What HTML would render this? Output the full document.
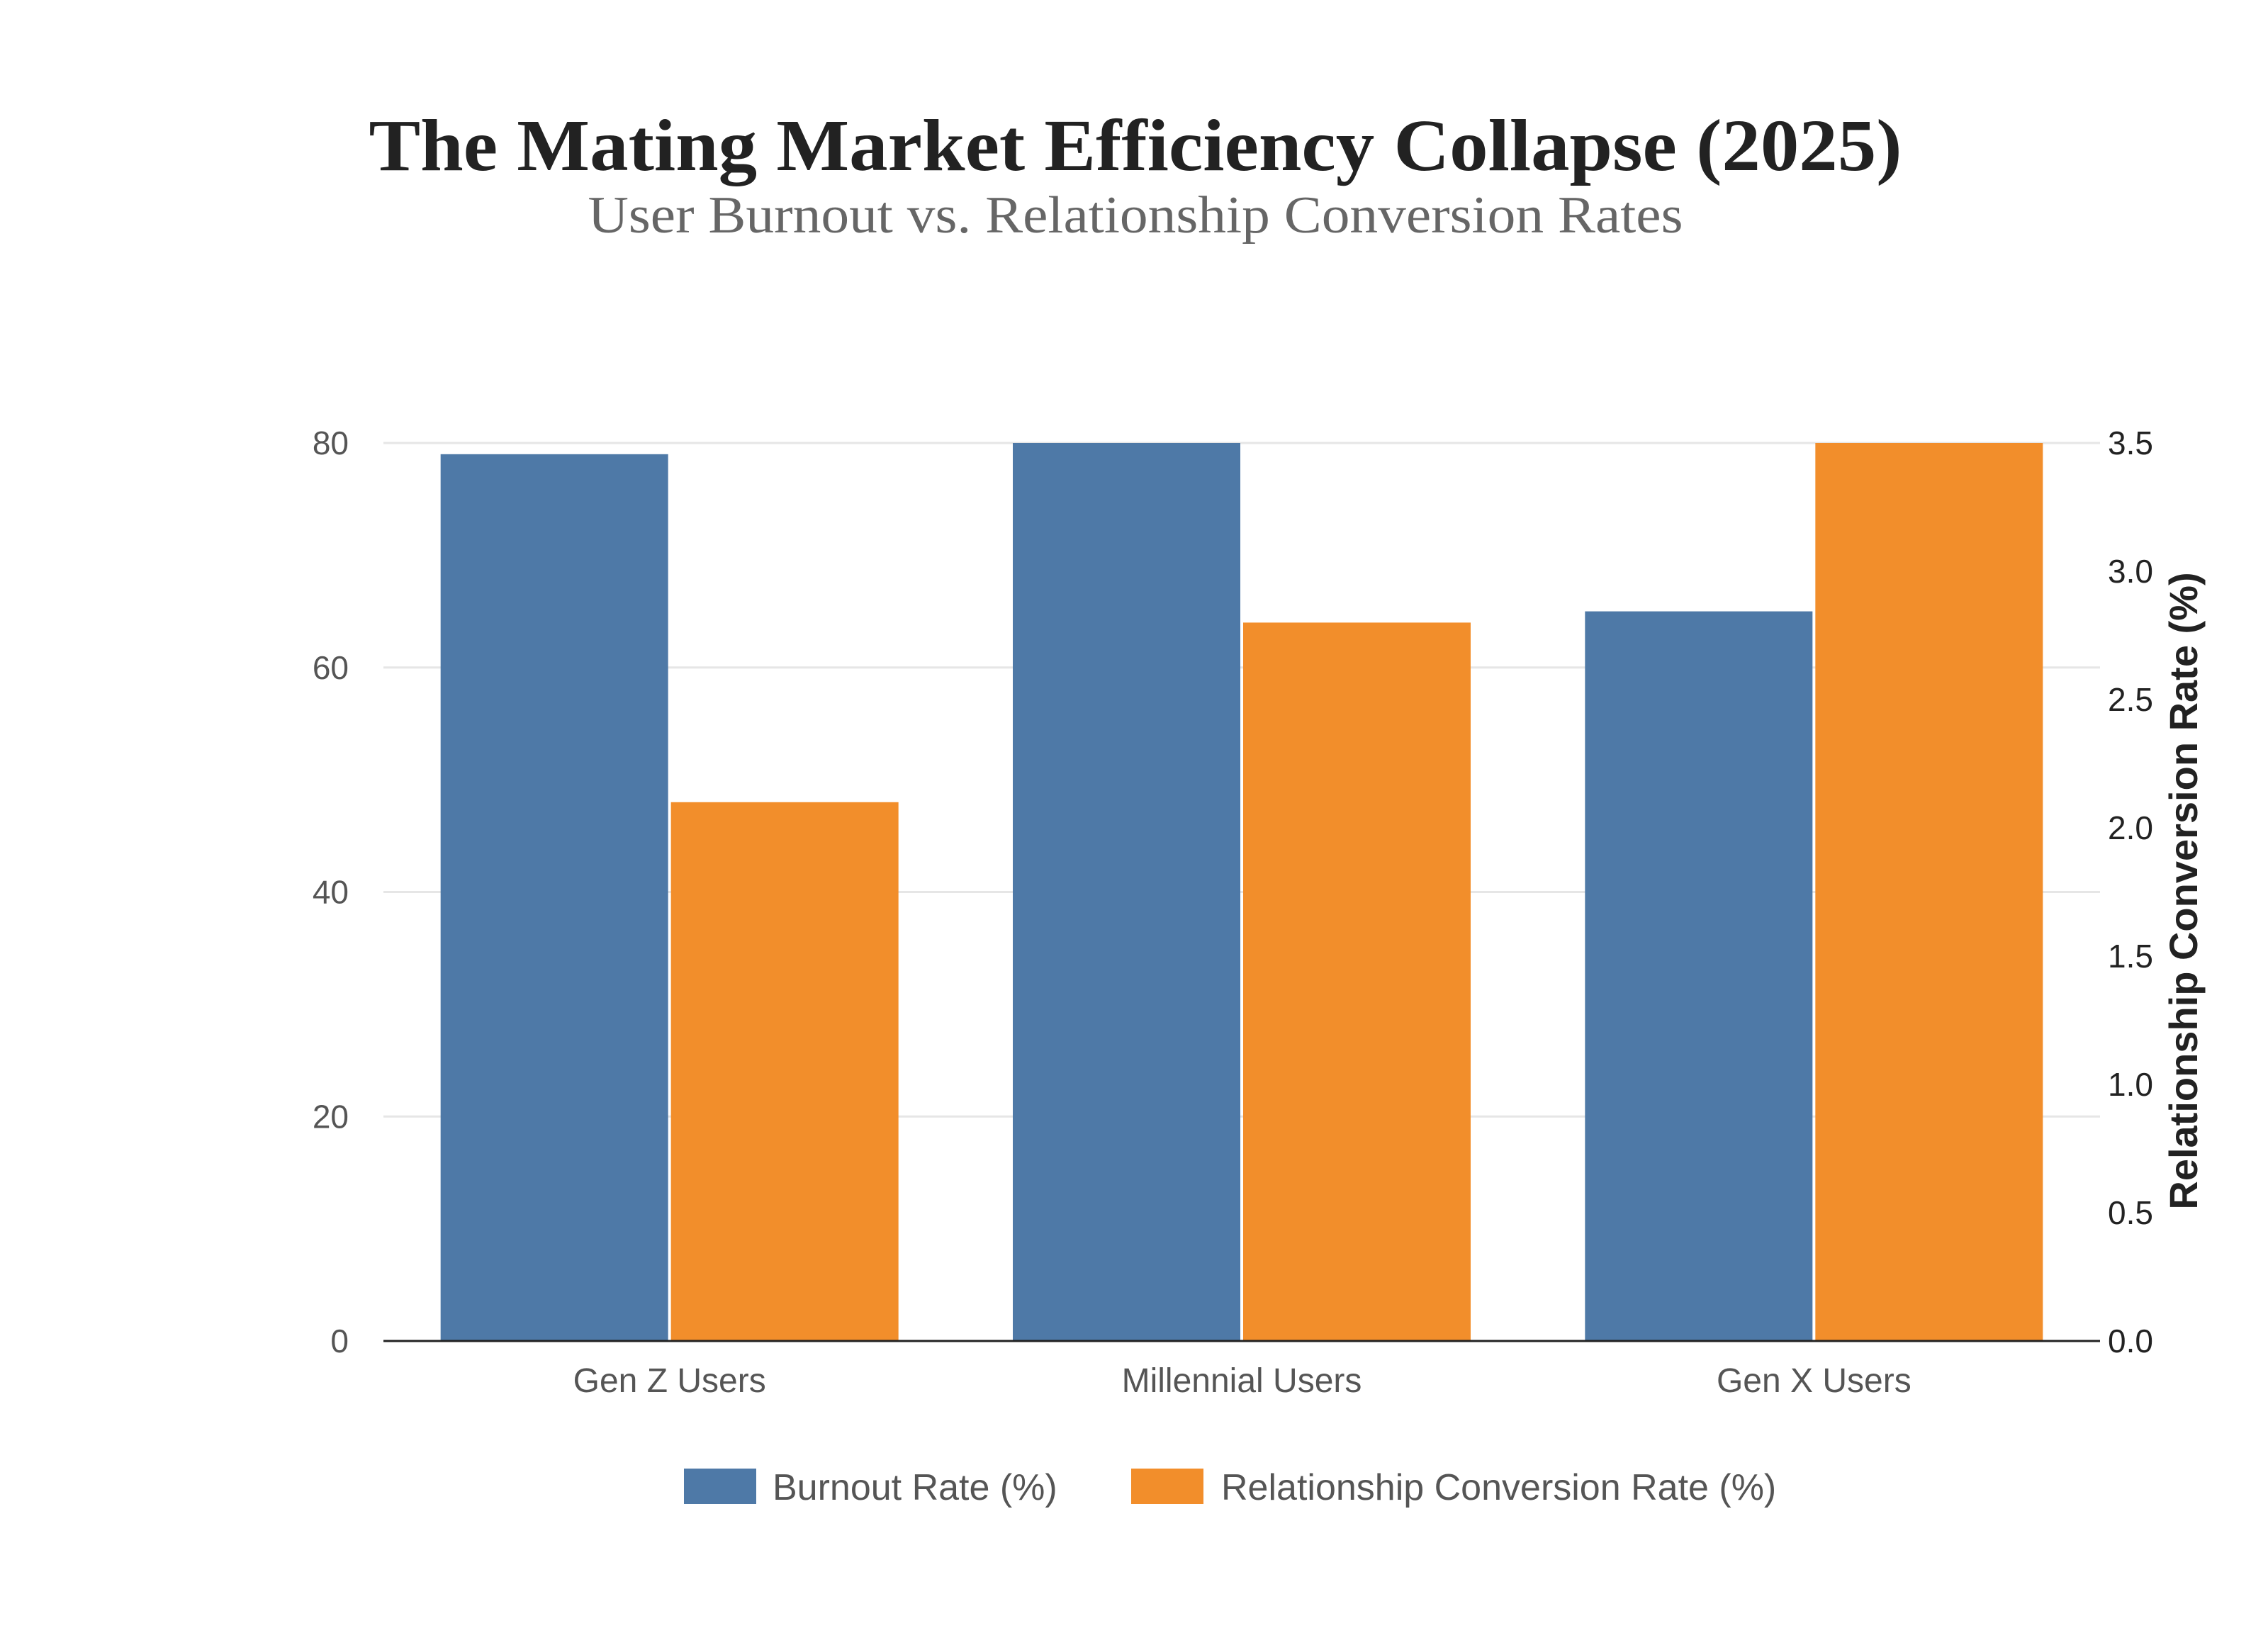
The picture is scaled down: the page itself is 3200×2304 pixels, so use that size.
<!DOCTYPE html>
<html><head><meta charset="utf-8"><style>
html,body{margin:0;padding:0;background:#fff;}
svg{display:block;}
</style></head><body>
<svg id="chart" width="3200" height="2304" xmlns="http://www.w3.org/2000/svg">
<rect width="3200" height="2304" fill="#fff"/>
<text x="1602" y="240" text-anchor="middle" textLength="2163" lengthAdjust="spacingAndGlyphs" font-family="'Liberation Serif',serif" font-weight="bold" font-size="104" fill="#222">The Mating Market Efficiency Collapse (2025)</text>
<text x="1602" y="328" text-anchor="middle" textLength="1545" lengthAdjust="spacingAndGlyphs" font-family="'Liberation Serif',serif" font-size="74" fill="#666">User Burnout vs. Relationship Conversion Rates</text>
<g id="grid"></g>
<g id="bars"></g>
<g id="axes"></g>
<text transform="translate(3100,1257) rotate(-90)" text-anchor="middle" font-family="'Liberation Sans',sans-serif" font-weight="bold" font-size="56" fill="#222">Relationship Conversion Rate (%)</text>
<g>
<rect x="965" y="2072" width="102" height="50" fill="#4e79a7"/>
<text x="1090" y="2116" font-family="'Liberation Sans',sans-serif" font-size="52" fill="#555">Burnout Rate (%)</text>
<rect x="1596" y="2072" width="102" height="50" fill="#f28e2b"/>
<text x="1723" y="2116" font-family="'Liberation Sans',sans-serif" font-size="52" fill="#555">Relationship Conversion Rate (%)</text>
</g>
</svg>
<script>
const categories = ["Gen Z Users", "Millennial Users", "Gen X Users"];
const burnout = [79, 80, 65];
const conversion = [2.1, 2.8, 3.5];
const leftTicks = [0, 20, 40, 60, 80];
const rightTicks = ["0.0","0.5","1.0","1.5","2.0","2.5","3.0","3.5"];

const NS = "http://www.w3.org/2000/svg";
const X0 = 541, X1 = 2963, Y0 = 1892, Ytop = 625;
const yL = v => Y0 - (v / 80) * (Y0 - Ytop);
const yR = v => Y0 - (v / 3.5) * (Y0 - Ytop);
const band = (X1 - X0) / categories.length;
const xC = i => X0 + band * (i + 0.5);
function mk(tag, attrs, parent, text) {
  const e = document.createElementNS(NS, tag);
  for (const k in attrs) e.setAttribute(k, attrs[k]);
  if (text !== undefined) e.textContent = text;
  parent.appendChild(e);
  return e;
}
const grid = document.getElementById('grid');
const bars = document.getElementById('bars');
const axes = document.getElementById('axes');
const font = "'Liberation Sans',sans-serif";

leftTicks.forEach(t => {
  if (t > 0) {
    const l = mk('line', {x1: X0, x2: X1, y1: yL(t), y2: yL(t), stroke: '#e6e6e6', 'stroke-width': 3}, grid);
    
    
  }
  const tx = mk('text', {x: 492, y: yL(t) + 16, 'text-anchor': 'end', 'font-family': font, 'font-size': 46, fill: '#555'}, axes, String(t));
  
  
});
rightTicks.forEach(t => {
  const tx = mk('text', {x: 2974, y: yR(parseFloat(t)) + 16, 'font-family': font, 'font-size': 46, fill: '#222'}, axes, t);
  
  
});
const bw = 321, gap = 4;
categories.forEach((c, i) => {
  const cx = xC(i);
  const b = mk('rect', {x: cx - gap / 2 - bw, y: yL(burnout[i]), width: bw, height: Y0 - yL(burnout[i]), fill: '#4e79a7'}, bars);
  
  
  const o = mk('rect', {x: cx + gap / 2, y: yR(conversion[i]), width: bw, height: Y0 - yR(conversion[i]), fill: '#f28e2b'}, bars);
  
  
  const tx = mk('text', {x: cx, y: 1964, 'text-anchor': 'middle', 'font-family': font, 'font-size': 48, fill: '#555'}, axes, c);
  
  
});
const ax = mk('line', {x1: X0, x2: X1, y1: Y0, y2: Y0, stroke: '#222', 'stroke-width': 3}, axes);


</script>
</body></html>
